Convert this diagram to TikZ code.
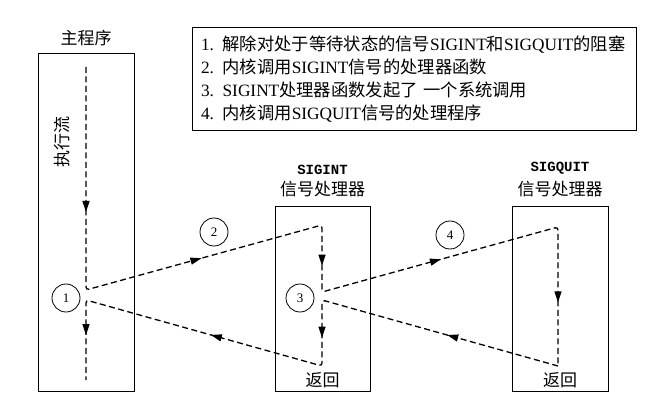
\documentclass[tikz,border=0pt]{standalone}
\usepackage{fontspec}
\setmainfont{Liberation Serif}
\setmonofont{Liberation Mono}
\newfontfamily\cjk{Noto Sans CJK SC}
\usepackage{tikz}
\usetikzlibrary{arrows.meta, positioning, decorations.markings}

\begin{document}
\begin{tikzpicture}
    [x=1pt, y=-1pt,
     box/.style={draw, line width=1pt, inner sep=0pt},
     title/.style={inner sep=0pt, font=\cjk\fontsize{17}{20}\selectfont},
     signame/.style={inner sep=0pt, font=\ttfamily\bfseries\fontsize{14}{16}\selectfont},
     num/.style={draw, circle, line width=0.8pt, minimum size=28pt, inner sep=0pt, font=\fontsize{13}{15}\selectfont},
     flow/.style={line width=1.3pt, dash pattern=on 6pt off 3.5pt, rounded corners=3pt},
     tipat/.style={postaction={decorate, decoration={markings,
         mark=at position #1 with {\arrow{Triangle[length=11pt, width=7pt]}}}}}]

    \useasboundingbox (0,0) rectangle (654,409);

    % legend
    \node[box, text width=426pt, inner xsep=9pt, inner ysep=6pt, minimum height=103pt,
          align=left, font=\fontsize{17.3}{23}\selectfont] (legend) at (414,79.5)
        {1. {\cjk 解除对处于等待状态的信号}SIGINT{\cjk 和}SIGQUIT{\cjk 的阻塞}\\
         2. {\cjk 内核调用}SIGINT{\cjk 信号的处理器函数}\\
         3. SIGINT{\cjk 处理器函数发起了 一个系统调用}\\
         4. {\cjk 内核调用}SIGQUIT{\cjk 信号的处理程序}};

    % program boxes
    \node[box, minimum width=96pt, minimum height=337pt] (main) at (86,222.5) {};
    \node[box, minimum width=95pt, minimum height=184pt] (sigint) at (322.5,299) {};
    \node[box, minimum width=96pt, minimum height=184pt] (sigquit) at (560,299) {};

    \node[title, above=7pt of main] (mainlabel) {主程序};
    \node[title, above=9pt of sigint] (sigintlabel) {信号处理器};
    \node[signame, above=7pt of sigintlabel] (sigintname) {SIGINT};
    \node[title, above=9pt of sigquit] (sigquitlabel) {信号处理器};
    \node[signame, above=7pt of sigquitlabel] (sigquitname) {SIGQUIT};
    \node[title, rotate=90] (flowlabel) at (62,142) {执行流};
    \node[title, above=3pt of sigint.south] (sigintret) {返回};
    \node[title, above=3pt of sigquit.south] (sigquitret) {返回};

    % flow points
    \coordinate (m1) at (86,67);
    \coordinate (m2) at (86,290);
    \coordinate (m3) at (86,300);
    \coordinate (m4) at (86,380);
    \coordinate (a1) at (322,225);
    \coordinate (a2) at (322,292);
    \coordinate (a3) at (322,300);
    \coordinate (a4) at (322,366);
    \coordinate (b1) at (558,227);
    \coordinate (b2) at (558,366);

    \draw[flow, tipat=145pt, tipat=341pt, tipat=505pt, tipat=653pt, tipat=848pt]
        (m1) -- (m2) -- (a1) -- (a2) -- (b1) -- (b2);
    \draw[flow, tipat=115pt, tipat=281pt, tipat=423pt, tipat=586pt]
        (b2) -- (a3) -- (a4) -- (m3) -- (m4);

    % step numbers
    \node[num] (n1) at (66,298) {1};
    \node[num] (n2) at (214,232) {2};
    \node[num] (n3) at (300,298) {3};
    \node[num] (n4) at (450,235) {4};
\end{tikzpicture}
\end{document}
